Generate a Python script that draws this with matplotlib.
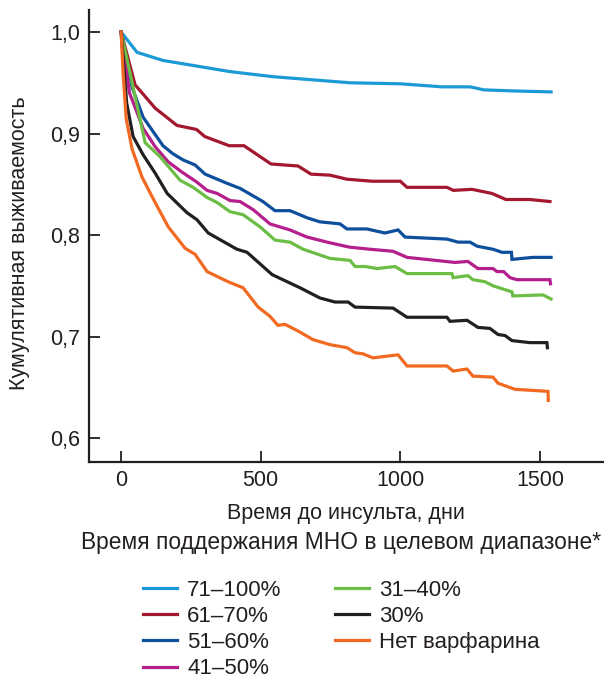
import matplotlib
matplotlib.use("Agg")
import matplotlib.pyplot as plt

plt.rcParams['font.family'] = ['Liberation Sans', 'DejaVu Sans']

# ---- data ----
labels = ["71–100%", "61–70%", "51–60%", "41–50%", "31–40%", "30%", "Нет варфарина"]
colors = ["#1c9ad6", "#a3182f", "#0d4f9c", "#b51f8c", "#6cbd45", "#231f20", "#f26a22"]

days_71_100 = [0, 57, 150, 390, 544, 820, 1000, 1150, 1250, 1300, 1400, 1540]
surv_71_100 = [1.0, 0.980, 0.972, 0.961, 0.956, 0.950, 0.949, 0.946, 0.946, 0.943, 0.942, 0.941]

days_61_70 = [0, 50, 122, 200, 270, 300, 387, 440, 537, 634, 680, 748, 809, 900, 1000,
              1024, 1167, 1190, 1257, 1328, 1378, 1464, 1536]
surv_61_70 = [1.0, 0.948, 0.925, 0.908, 0.904, 0.897, 0.888, 0.888, 0.870, 0.868, 0.860,
              0.859, 0.855, 0.853, 0.853, 0.847, 0.847, 0.844, 0.845, 0.841, 0.835, 0.835, 0.833]

days_51_60 = [0, 40, 79, 150, 186, 222, 265, 301, 379, 426, 508, 551, 605, 666, 712, 784,
              809, 880, 945, 992, 1017, 1167, 1207, 1250, 1275, 1332, 1364, 1398, 1400, 1475, 1540]
surv_51_60 = [1.0, 0.945, 0.916, 0.888, 0.880, 0.874, 0.869, 0.860, 0.851, 0.846, 0.833,
              0.824, 0.824, 0.817, 0.813, 0.811, 0.806, 0.806, 0.802, 0.805, 0.798, 0.796,
              0.793, 0.793, 0.789, 0.786, 0.783, 0.783, 0.776, 0.778, 0.778]

days_41_50 = [0, 30, 79, 122, 169, 218, 272, 308, 344, 390, 426, 473, 533, 605, 666, 738,
              802, 820, 892, 974, 1024, 1196, 1242, 1278, 1332, 1346, 1370, 1393, 1418, 1536, 1538]
surv_41_50 = [1.0, 0.940, 0.905, 0.887, 0.872, 0.862, 0.852, 0.844, 0.841, 0.834, 0.833,
              0.825, 0.811, 0.805, 0.798, 0.793, 0.789, 0.788, 0.786, 0.784, 0.778, 0.773,
              0.774, 0.767, 0.767, 0.764, 0.764, 0.758, 0.756, 0.756, 0.752]

days_31_40 = [0, 86, 140, 211, 258, 308, 344, 390, 437, 498, 551, 605, 652, 748, 820, 838,
              874, 917, 981, 1024, 1185, 1189, 1242, 1260, 1303, 1332, 1400, 1403, 1511, 1540]
surv_31_40 = [1.0, 0.891, 0.877, 0.854, 0.847, 0.837, 0.832, 0.823, 0.820, 0.808, 0.795,
              0.793, 0.786, 0.777, 0.775, 0.769, 0.769, 0.767, 0.769, 0.762, 0.762, 0.758,
              0.760, 0.756, 0.754, 0.750, 0.744, 0.740, 0.741, 0.737]

days_30 = [0, 20, 43, 79, 122, 165, 236, 272, 312, 415, 451, 541, 641, 712, 766, 813, 838,
           974, 1024, 1167, 1178, 1239, 1278, 1321, 1350, 1375, 1400, 1464, 1525, 1527]
surv_30 = [1.0, 0.930, 0.897, 0.879, 0.861, 0.841, 0.822, 0.815, 0.802, 0.786, 0.783, 0.761,
           0.748, 0.738, 0.734, 0.734, 0.729, 0.728, 0.719, 0.719, 0.715, 0.716, 0.709,
           0.708, 0.702, 0.701, 0.696, 0.694, 0.694, 0.689]

days_none = [0, 7, 18, 39, 75, 122, 169, 229, 265, 308, 383, 437, 491, 533, 562, 587, 630,
             687, 748, 809, 838, 866, 902, 992, 1024, 1167, 1189, 1239, 1260, 1332, 1350,
             1411, 1529, 1530]
surv_none = [1.0, 0.960, 0.915, 0.885, 0.857, 0.832, 0.808, 0.787, 0.781, 0.764, 0.754,
             0.748, 0.729, 0.720, 0.711, 0.712, 0.706, 0.697, 0.692, 0.689, 0.684, 0.683,
             0.679, 0.682, 0.671, 0.671, 0.666, 0.668, 0.661, 0.660, 0.654, 0.648, 0.646, 0.637]

series_days = [days_71_100, days_61_70, days_51_60, days_41_50, days_31_40, days_30, days_none]
series_surv = [surv_71_100, surv_61_70, surv_51_60, surv_41_50, surv_31_40, surv_30, surv_none]

xticks = [0, 500, 1000, 1500]
xtick_labels = ["0", "500", "1000", "1500"]
yticks = [0.6, 0.7, 0.8, 0.9, 1.0]
ytick_labels = ["0,6", "0,7", "0,8", "0,9", "1,0"]

xlabel = "Время до инсульта, дни"
ylabel = "Кумулятивная выживаемость"
legend_title = "Время поддержания МНО в целевом диапазоне*"

# ---- figure ----
W, H = 604, 678
TXT = "#231f20"
fig = plt.figure(figsize=(W / 100, H / 100), dpi=100)
ax = fig.add_axes([89 / W, 1 - 462 / H, (603 - 89) / W, (462 - 10) / H])

handles = []
for d, s, c, lab in zip(series_days, series_surv, colors, labels):
    ln, = ax.plot(d, s, color=c, lw=2.3, label=lab, solid_joinstyle='miter')
    handles.append(ln)

ax.set_xlim(-115, 1726)
ax.set_ylim(0.5764, 1.0217)

ax.set_xticks(xticks)
ax.set_xticklabels(xtick_labels)
ax.set_yticks(yticks)
ax.set_yticklabels(ytick_labels)

for side in ["top", "right"]:
    ax.spines[side].set_visible(False)
for side in ["left", "bottom"]:
    ax.spines[side].set_linewidth(1.6)
    ax.spines[side].set_color(TXT)

ax.tick_params(axis='both', direction='in', length=8, width=1.3, color=TXT,
               labelsize=15.5, labelcolor=TXT)
ax.tick_params(axis='y', pad=6.5)
ax.tick_params(axis='x', pad=6)

ax.set_xlabel(xlabel, fontsize=15.5, color=TXT)
ax.xaxis.label.set_va('center')
ax.xaxis.set_label_coords(0.5, (462 - 513) / 452)
ax.set_ylabel(ylabel, fontsize=15.5, color=TXT)
ax.yaxis.label.set_va('center')
ax.yaxis.set_label_coords((20 - 89) / 514, (462 - 243) / 452)

fig.text(341 / W, 1 - 543 / H, legend_title, fontsize=16.4, color=TXT,
         ha='center', va='center')

fig.legend(handles=handles, loc='upper left', bbox_to_anchor=(143 / W, 1 - 580 / H),
           ncol=2, frameon=False, fontsize=16, handlelength=1.53, handletextpad=0.45,
           columnspacing=2.4, labelspacing=0.23, borderpad=0, borderaxespad=0,
           labelcolor=TXT)

fig.savefig("out.png", dpi=100)
